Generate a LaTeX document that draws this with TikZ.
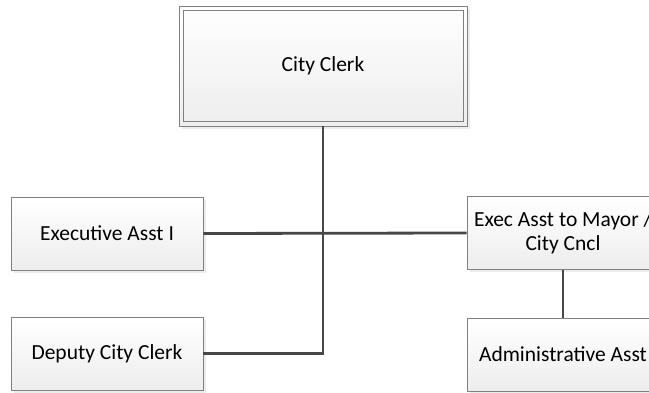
\documentclass[tikz,border=0pt]{standalone}
\usepackage{fontspec}
\setmainfont{Carlito}
\usetikzlibrary{shadows}

\tikzset{
  posbox/.style={draw=black!50,line width=0.9pt,top color=white,bottom color=black!7,
    minimum width=192,minimum height=73,inner sep=2pt,align=center,
    font=\fontsize{21.5}{24}\selectfont,
    drop shadow={opacity=0.15,shadow xshift=3pt,shadow yshift=-3pt}},
  link/.style={draw=black!72,line width=2.8pt}
}

\begin{document}
\begin{tikzpicture}[x=1pt,y=-1pt]
  \useasboundingbox (0,0) rectangle (649,393);
  \fill[white] (0,0) rectangle (649,393);
  \node[posbox,minimum width=288,minimum height=120] (clerk) at (323,66) {City Clerk};
  % inner rule of the double border
  \draw[black!50,line width=0.9pt] ([shift={(4.5,4.5)}]clerk.north west) rectangle ([shift={(-4.5,-4.5)}]clerk.south east);
  \node[posbox] (execasst) at (107,233.5) {Executive Asst I};
  \node[posbox] (deputy) at (107,353.5) {Deputy City Clerk};
  \node[posbox] (mayor) at (563,233) {Exec Asst to Mayor /\\City Cncl};
  \node[posbox] (admin) at (563,354.5) {Administrative Asst};
  \draw[link] (clerk.south) |- (deputy.east);
  \draw[link] (execasst.east) -- (mayor.west);
  \draw[link] (mayor.south) -- (admin.north);
\end{tikzpicture}
\end{document}
